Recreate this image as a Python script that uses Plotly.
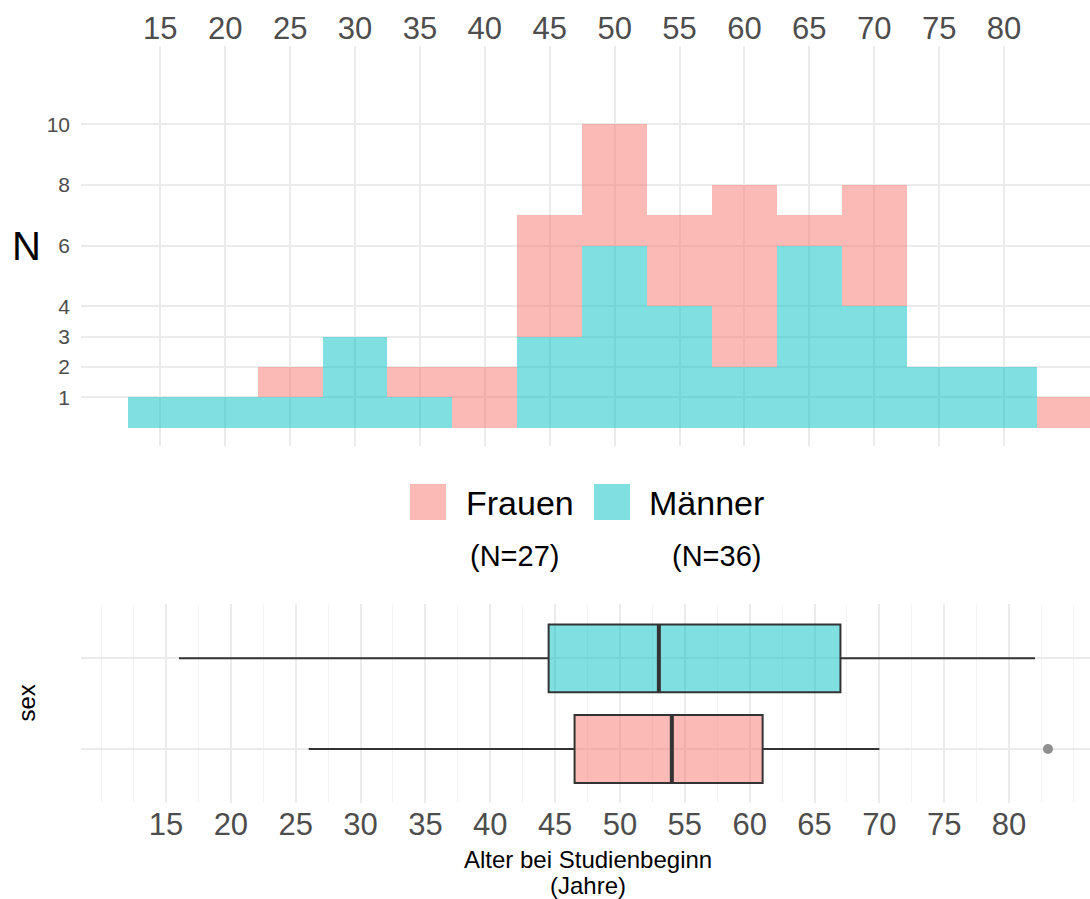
import numpy as np
import plotly.graph_objects as go

# ---- data -------------------------------------------------------------
# stacked histogram: 5-year age bins, counts per group
bin_centers = [15, 20, 25, 30, 35, 40, 45, 50, 55, 60, 65, 70, 75, 80, 85]
count_maenner = [1, 1, 1, 3, 1, 0, 3, 6, 4, 2, 6, 4, 2, 2, 0]
count_frauen = [0, 0, 1, 0, 1, 2, 4, 4, 3, 6, 1, 4, 0, 0, 1]
bin_width = 5

# box plot summary per group (Frauen = row 1, Männer = row 2)
groups = ["Frauen", "Männer"]
group_n = [27, 36]
group_row = [1, 2]
q1 = [46.5, 44.5]
median = [54, 53]
q3 = [61, 67]
lower_fence = [26, 16]
upper_fence = [70, 82]
outlier_age = [83]
outlier_row = [1]

age_ticks = [15, 20, 25, 30, 35, 40, 45, 50, 55, 60, 65, 70, 75, 80]
count_ticks = [1, 2, 3, 4, 6, 8, 10]

# ---- styling ----------------------------------------------------------
W, H = 1090, 899
FONT = "Liberation Sans, Arial, Helvetica, sans-serif"
FILL = {"Frauen": "rgba(248,118,109,0.5)", "Männer": "rgba(0,191,196,0.5)"}
LINE = "#333333"
GRID = "#EBEBEB"
GRID_MINOR = "#F3F3F3"
TICK_COL = "#4D4D4D"
BOX_WIDTH = 0.75


def px_x(v):
    return v / W


def px_y(v):
    return 1 - v / H


fig = go.Figure()

# histogram (Männer at the bottom, Frauen stacked on top)
fig.add_trace(go.Bar(x=bin_centers, y=count_maenner, width=bin_width,
                     marker=dict(color=FILL["Männer"], line=dict(width=0)),
                     xaxis="x", yaxis="y", showlegend=False))
fig.add_trace(go.Bar(x=bin_centers, y=count_frauen, width=bin_width,
                     marker=dict(color=FILL["Frauen"], line=dict(width=0)),
                     xaxis="x", yaxis="y", showlegend=False))

# horizontal box plots
for i, g in enumerate(groups):
    fig.add_trace(go.Box(
        y=[group_row[i]], q1=[q1[i]], median=[median[i]], q3=[q3[i]],
        lowerfence=[lower_fence[i]], upperfence=[upper_fence[i]],
        orientation="h", width=BOX_WIDTH, whiskerwidth=0, boxpoints=False,
        fillcolor=FILL[g], line=dict(color=LINE, width=2),
        xaxis="x2", yaxis="y2", showlegend=False, hoverinfo="skip"))
    # thicker median line
    fig.add_trace(go.Scatter(
        x=[median[i], median[i]],
        y=[group_row[i] - BOX_WIDTH / 2, group_row[i] + BOX_WIDTH / 2],
        mode="lines", line=dict(color=LINE, width=4),
        xaxis="x2", yaxis="y2", showlegend=False, hoverinfo="skip"))

fig.add_trace(go.Scatter(x=outlier_age, y=outlier_row, mode="markers",
                         marker=dict(size=10, color="#8F8F8F"),
                         xaxis="x2", yaxis="y2", showlegend=False))

# minor gridlines for the lower panel
minor_grid = [v for v in np.arange(10, 87.5, 2.5) if v not in age_ticks]

x_dom = [px_x(81), 1.0]
fig.update_layout(
    width=W, height=H, margin=dict(l=0, r=0, t=0, b=0),
    paper_bgcolor="white", plot_bgcolor="white",
    barmode="stack", bargap=0,
    font=dict(family=FONT),
    xaxis=dict(domain=x_dom, anchor="y", side="top", range=[8.89, 86.62],
               tickmode="array", tickvals=age_ticks, ticks="",
               showgrid=True, gridcolor=GRID, gridwidth=1.6, zeroline=False,
               showline=False, tickfont=dict(size=31, color=TICK_COL)),
    yaxis=dict(domain=[px_y(446), px_y(46)], anchor="x", range=[-0.603, 12.576],
               tickmode="array", tickvals=count_ticks, ticks="",
               ticklabelstandoff=10,
               showgrid=True, gridcolor=GRID, gridwidth=1.6, zeroline=False,
               showline=False, tickfont=dict(size=21, color=TICK_COL)),
    xaxis2=dict(domain=x_dom, anchor="y2", range=[8.446, 86.24],
                tickmode="array", tickvals=age_ticks, ticks="",
                showgrid=True, gridcolor=GRID, gridwidth=1.6, zeroline=False,
                showline=False, tickfont=dict(size=31, color=TICK_COL),
                minor=dict(tickmode="array", tickvals=minor_grid, showgrid=True,
                           gridcolor=GRID_MINOR, gridwidth=1, ticks="")),
    yaxis2=dict(domain=[px_y(803.3), px_y(604)], anchor="x2", range=[0.4, 2.6],
                tickmode="array", tickvals=group_row, showticklabels=False,
                ticks="", showgrid=True, gridcolor=GRID, gridwidth=1.6,
                zeroline=False, showline=False),
)

# legend drawn in the gap between the panels
legend_key_x = [410, 594]
legend_text_x = [519.5, 706]
legend_n_x = [514.5, 716]
shapes = []
annotations = []
for i, g in enumerate(groups):
    x0 = legend_key_x[i]
    shapes.append(dict(type="rect", xref="paper", yref="paper",
                       x0=px_x(x0), x1=px_x(x0 + 36), y0=px_y(520), y1=px_y(484),
                       fillcolor=FILL[g], line=dict(width=0)))
    annotations.append(dict(text=g, x=px_x(legend_text_x[i]), y=px_y(503),
                            xref="paper", yref="paper", showarrow=False,
                            xanchor="center", yanchor="middle",
                            font=dict(size=34, color="black")))
    annotations.append(dict(text=f"(N={group_n[i]})", x=px_x(legend_n_x[i]),
                            y=px_y(556), xref="paper", yref="paper",
                            showarrow=False, xanchor="center", yanchor="middle",
                            font=dict(size=29, color="black")))

annotations += [
    dict(text="N", x=px_x(26), y=px_y(246), xref="paper", yref="paper",
         showarrow=False, xanchor="center", yanchor="middle",
         font=dict(size=40, color="black")),
    dict(text="sex", x=px_x(26), y=px_y(703.5), xref="paper", yref="paper",
         showarrow=False, xanchor="center", yanchor="middle", textangle=-90,
         font=dict(size=24, color="black")),
    dict(text="Alter bei Studienbeginn", x=px_x(588), y=px_y(859),
         xref="paper", yref="paper", showarrow=False,
         xanchor="center", yanchor="middle", font=dict(size=24, color="black")),
    dict(text="(Jahre)", x=px_x(588), y=px_y(885), xref="paper", yref="paper",
         showarrow=False, xanchor="center", yanchor="middle",
         font=dict(size=24, color="black")),
]
fig.update_layout(shapes=shapes, annotations=annotations)

fig.write_html("out.html")
